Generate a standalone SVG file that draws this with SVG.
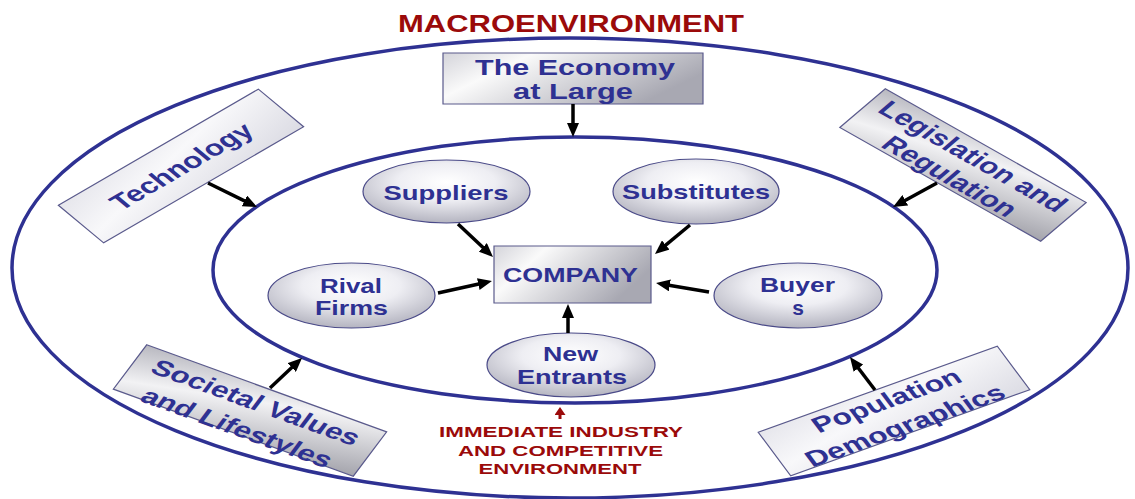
<svg xmlns="http://www.w3.org/2000/svg" width="1135" height="499" viewBox="0 0 1135 499">
  <defs>
    <style>
      .ring { fill: none; stroke: #2E3192; stroke-width: 3.5; }
      .box { stroke: #5a5a8c; stroke-width: 1.2; vector-effect: non-scaling-stroke; }
      .oval { fill: url(#ovalFill); stroke: #4a4a88; stroke-width: 1.2; }
      .lbl { font-family: "Liberation Sans", Arial, sans-serif; font-weight: bold; fill: #2E3192; text-anchor: middle; }
      .red { font-family: "Liberation Sans", Arial, sans-serif; font-weight: bold; fill: #9b0a0a; text-anchor: middle; }
      .arrow { stroke: #000; stroke-width: 3.5; marker-end: url(#head); }
    </style>
    <marker id="head" viewBox="0 0 14 12" markerUnits="userSpaceOnUse" markerWidth="14" markerHeight="12" refX="4" refY="6" orient="auto">
      <path d="M0,0 L14,6 L0,12 z" fill="#000"/>
    </marker>
    <marker id="redHead" viewBox="0 0 8 11" markerUnits="userSpaceOnUse" markerWidth="8" markerHeight="11" refX="2" refY="5.5" orient="auto">
      <path d="M0,0 L8,5.5 L0,11 z" fill="#9b0a0a"/>
    </marker>
    <radialGradient id="ovalFill" cx="50%" cy="35%" r="65%">
      <stop offset="0" stop-color="#ffffff"/>
      <stop offset="0.45" stop-color="#eeeef3"/>
      <stop offset="1" stop-color="#b4b4c0"/>
    </radialGradient>
    <linearGradient id="lightFill" x1="0" y1="0" x2="1" y2="1">
      <stop offset="0" stop-color="#e6e6ec"/>
      <stop offset="0.4" stop-color="#f8f8fa"/>
      <stop offset="1" stop-color="#dcdce4"/>
    </linearGradient>
    <linearGradient id="greyFill" x1="0" y1="0" x2="1" y2="1">
      <stop offset="0" stop-color="#b8b8c0"/>
      <stop offset="0.4" stop-color="#f2f2f4"/>
      <stop offset="1" stop-color="#a4a4ac"/>
    </linearGradient>
    <linearGradient id="econFill" x1="0" y1="0" x2="1" y2="0.4">
      <stop offset="0" stop-color="#d4d4da"/>
      <stop offset="0.3" stop-color="#fafafa"/>
      <stop offset="1" stop-color="#a8a8b2"/>
    </linearGradient>
  </defs>

  <rect width="1135" height="499" fill="#ffffff"/>

  <!-- title -->
  <text class="red" x="571" y="32" font-size="23.5" textLength="346" lengthAdjust="spacingAndGlyphs">MACROENVIRONMENT</text>

  <!-- environment rings -->
  <g id="ring-macro">
    <ellipse class="ring" cx="570" cy="268" rx="558" ry="230"/>
  </g>
  <g id="ring-industry">
    <ellipse class="ring" cx="575" cy="270" rx="362" ry="133"/>
  </g>

  <!-- macro-environment forces -->
  <g id="node-economy">
    <rect class="box" x="443" y="53" width="260" height="51" fill="url(#econFill)"/>
    <text class="lbl" x="575" y="75" font-size="21.5" textLength="200" lengthAdjust="spacingAndGlyphs">The Economy</text>
    <text class="lbl" x="573" y="99" font-size="21.5" textLength="120" lengthAdjust="spacingAndGlyphs">at Large</text>
  </g>

  <g id="node-technology" transform="translate(181,166) scale(1.44,1) rotate(-39.9)">
    <rect class="box" x="-90.5" y="-24.5" width="181" height="49" fill="url(#lightFill)"/>
    <text class="lbl" x="0" y="8" font-size="22">Technology</text>
  </g>

  <g id="node-legislation" transform="translate(963,165) scale(1.44,1) rotate(39.2)">
    <rect class="box" x="-90" y="-25" width="180" height="50" fill="url(#greyFill)"/>
    <text class="lbl" x="0" y="-3.5" font-size="22">Legislation and</text>
    <text class="lbl" x="0" y="22" font-size="22">Regulation</text>
  </g>

  <g id="node-societal" transform="translate(250,410.5) scale(1.44,1) rotate(27.6)">
    <rect class="box" x="-94" y="-25" width="188" height="50" fill="url(#greyFill)"/>
    <text class="lbl" x="0" y="-1.5" font-size="22">Societal Values</text>
    <text class="lbl" x="0" y="27" font-size="22">and Lifestyles</text>
  </g>

  <g id="node-population" transform="translate(894,411) scale(1.44,1) rotate(-27.4)">
    <rect class="box" x="-93.5" y="-24.5" width="187" height="49" fill="url(#lightFill)"/>
    <text class="lbl" x="0" y="-4" font-size="22">Population</text>
    <text class="lbl" x="0" y="24" font-size="22">Demographics</text>
  </g>

  <!-- industry forces -->
  <g id="node-suppliers">
    <ellipse class="oval" cx="446.5" cy="191.5" rx="83.5" ry="31.5"/>
    <text class="lbl" x="446" y="200" font-size="21" textLength="125" lengthAdjust="spacingAndGlyphs">Suppliers</text>
  </g>

  <g id="node-substitutes">
    <ellipse class="oval" cx="696" cy="191.5" rx="83" ry="32.5"/>
    <text class="lbl" x="696" y="199" font-size="21" textLength="148" lengthAdjust="spacingAndGlyphs">Substitutes</text>
  </g>

  <g id="node-rivals">
    <ellipse class="oval" cx="351.5" cy="295.5" rx="83.5" ry="32.5"/>
    <text class="lbl" x="351" y="293" font-size="21" textLength="62" lengthAdjust="spacingAndGlyphs">Rival</text>
    <text class="lbl" x="351.5" y="315" font-size="21" textLength="73" lengthAdjust="spacingAndGlyphs">Firms</text>
  </g>

  <g id="node-buyers">
    <ellipse class="oval" cx="798" cy="295.5" rx="84" ry="32.5"/>
    <text class="lbl" x="797.5" y="292" font-size="21" textLength="75" lengthAdjust="spacingAndGlyphs">Buyer</text>
    <text class="lbl" x="798" y="315" font-size="21">s</text>
  </g>

  <g id="node-entrants">
    <ellipse class="oval" cx="571" cy="365" rx="84" ry="32"/>
    <text class="lbl" x="570.5" y="361" font-size="21" textLength="55" lengthAdjust="spacingAndGlyphs">New</text>
    <text class="lbl" x="572" y="384" font-size="21" textLength="110" lengthAdjust="spacingAndGlyphs">Entrants</text>
  </g>

  <g id="node-company">
    <rect class="box" x="494" y="246" width="157" height="57" fill="url(#econFill)"/>
    <text class="lbl" x="570.5" y="282" font-size="21" textLength="135" lengthAdjust="spacingAndGlyphs">COMPANY</text>
  </g>

  <!-- influence arrows -->
  <g id="connectors">
    <line class="arrow" x1="573" y1="104" x2="573" y2="127"/>
    <line class="arrow" x1="208" y1="183" x2="248" y2="202.6"/>
    <line class="arrow" x1="937" y1="183" x2="901.8" y2="202.2"/>
    <line class="arrow" x1="270" y1="388" x2="294.7" y2="364.8"/>
    <line class="arrow" x1="875" y1="390" x2="856" y2="365"/>
    <line class="arrow" x1="458" y1="224" x2="485.7" y2="250.1"/>
    <line class="arrow" x1="690" y1="225" x2="662.7" y2="247.6"/>
    <line class="arrow" x1="438" y1="293" x2="482.2" y2="283.2"/>
    <line class="arrow" x1="709" y1="292" x2="665.9" y2="284.7"/>
    <line class="arrow" x1="568" y1="333" x2="568" y2="314"/>
    <line x1="560" y1="419" x2="560" y2="413" stroke="#9b0a0a" stroke-width="3" marker-end="url(#redHead)"/>
  </g>

  <!-- industry label -->
  <g id="label-industry">
    <text class="red" x="561" y="437" font-size="15" textLength="244" lengthAdjust="spacingAndGlyphs">IMMEDIATE INDUSTRY</text>
    <text class="red" x="560.5" y="456" font-size="15" textLength="205" lengthAdjust="spacingAndGlyphs">AND COMPETITIVE</text>
    <text class="red" x="560" y="474" font-size="15" textLength="163" lengthAdjust="spacingAndGlyphs">ENVIRONMENT</text>
  </g>
</svg>
